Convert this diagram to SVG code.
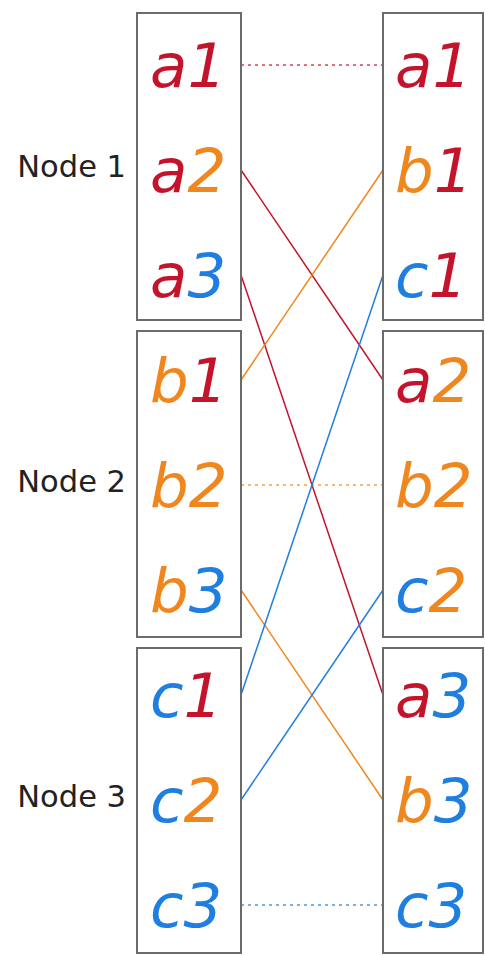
<svg xmlns="http://www.w3.org/2000/svg" width="485" height="956" viewBox="0 0 485 956">
<style>
.box{fill:#fff;stroke:#6b6b6b;stroke-width:2}
.t{font-family:"DejaVu Sans",sans-serif;font-style:italic;font-size:61px}
.lbl{font-family:"DejaVu Sans",sans-serif;font-size:30.5px;fill:#222;text-anchor:end}
.r{fill:#c4142c}.o{fill:#f0861e}.b{fill:#1f7fe0}
.lr{stroke:#c4142c}.lo{stroke:#f0861e}.lb{stroke:#1f7fe0}
.c{fill:none;stroke-width:1.5}
.d{stroke-dasharray:3 4;opacity:0.8}
</style>
<rect width="485" height="956" fill="#fff"/>
<g id="connectors">
<line class="c d lr" x1="241" y1="65" x2="383" y2="65"/>
<line class="c lr" x1="241" y1="170" x2="383" y2="380"/>
<line class="c lr" x1="241" y1="275" x2="383" y2="695"/>
<line class="c lo" x1="241" y1="380" x2="383" y2="170"/>
<line class="c d lo" x1="241" y1="485" x2="383" y2="485"/>
<line class="c lo" x1="241" y1="590" x2="383" y2="800"/>
<line class="c lb" x1="241" y1="695" x2="383" y2="275"/>
<line class="c lb" x1="241" y1="800" x2="383" y2="590"/>
<line class="c d lb" x1="241" y1="905" x2="383" y2="905"/>
</g>
<g id="node1">
<rect class="box" x="137" y="13" width="104" height="307"/>
<text class="lbl" x="126" y="177">Node 1</text>
<text class="t" x="150" y="87"><tspan class="r">a</tspan><tspan class="r">1</tspan></text>
<text class="t" x="150" y="192"><tspan class="r">a</tspan><tspan class="o">2</tspan></text>
<text class="t" x="150" y="297"><tspan class="r">a</tspan><tspan class="b">3</tspan></text>
</g>
<g id="node2">
<rect class="box" x="137" y="331" width="104" height="306"/>
<text class="lbl" x="126" y="492">Node 2</text>
<text class="t" x="150" y="402"><tspan class="o">b</tspan><tspan class="r">1</tspan></text>
<text class="t" x="150" y="507"><tspan class="o">b</tspan><tspan class="o">2</tspan></text>
<text class="t" x="150" y="612"><tspan class="o">b</tspan><tspan class="b">3</tspan></text>
</g>
<g id="node3">
<rect class="box" x="137" y="648" width="104" height="305"/>
<text class="lbl" x="126" y="807">Node 3</text>
<text class="t" x="150" y="717"><tspan class="b">c</tspan><tspan class="r">1</tspan></text>
<text class="t" x="150" y="822"><tspan class="b">c</tspan><tspan class="o">2</tspan></text>
<text class="t" x="150" y="927"><tspan class="b">c</tspan><tspan class="b">3</tspan></text>
</g>
<g id="right1">
<rect class="box" x="383" y="13" width="100" height="307"/>
<text class="t" x="395" y="87"><tspan class="r">a</tspan><tspan class="r">1</tspan></text>
<text class="t" x="395" y="192"><tspan class="o">b</tspan><tspan class="r">1</tspan></text>
<text class="t" x="395" y="297"><tspan class="b">c</tspan><tspan class="r">1</tspan></text>
</g>
<g id="right2">
<rect class="box" x="383" y="331" width="100" height="306"/>
<text class="t" x="395" y="402"><tspan class="r">a</tspan><tspan class="o">2</tspan></text>
<text class="t" x="395" y="507"><tspan class="o">b</tspan><tspan class="o">2</tspan></text>
<text class="t" x="395" y="612"><tspan class="b">c</tspan><tspan class="o">2</tspan></text>
</g>
<g id="right3">
<rect class="box" x="383" y="648" width="100" height="305"/>
<text class="t" x="395" y="717"><tspan class="r">a</tspan><tspan class="b">3</tspan></text>
<text class="t" x="395" y="822"><tspan class="o">b</tspan><tspan class="b">3</tspan></text>
<text class="t" x="395" y="927"><tspan class="b">c</tspan><tspan class="b">3</tspan></text>
</g>
</svg>
